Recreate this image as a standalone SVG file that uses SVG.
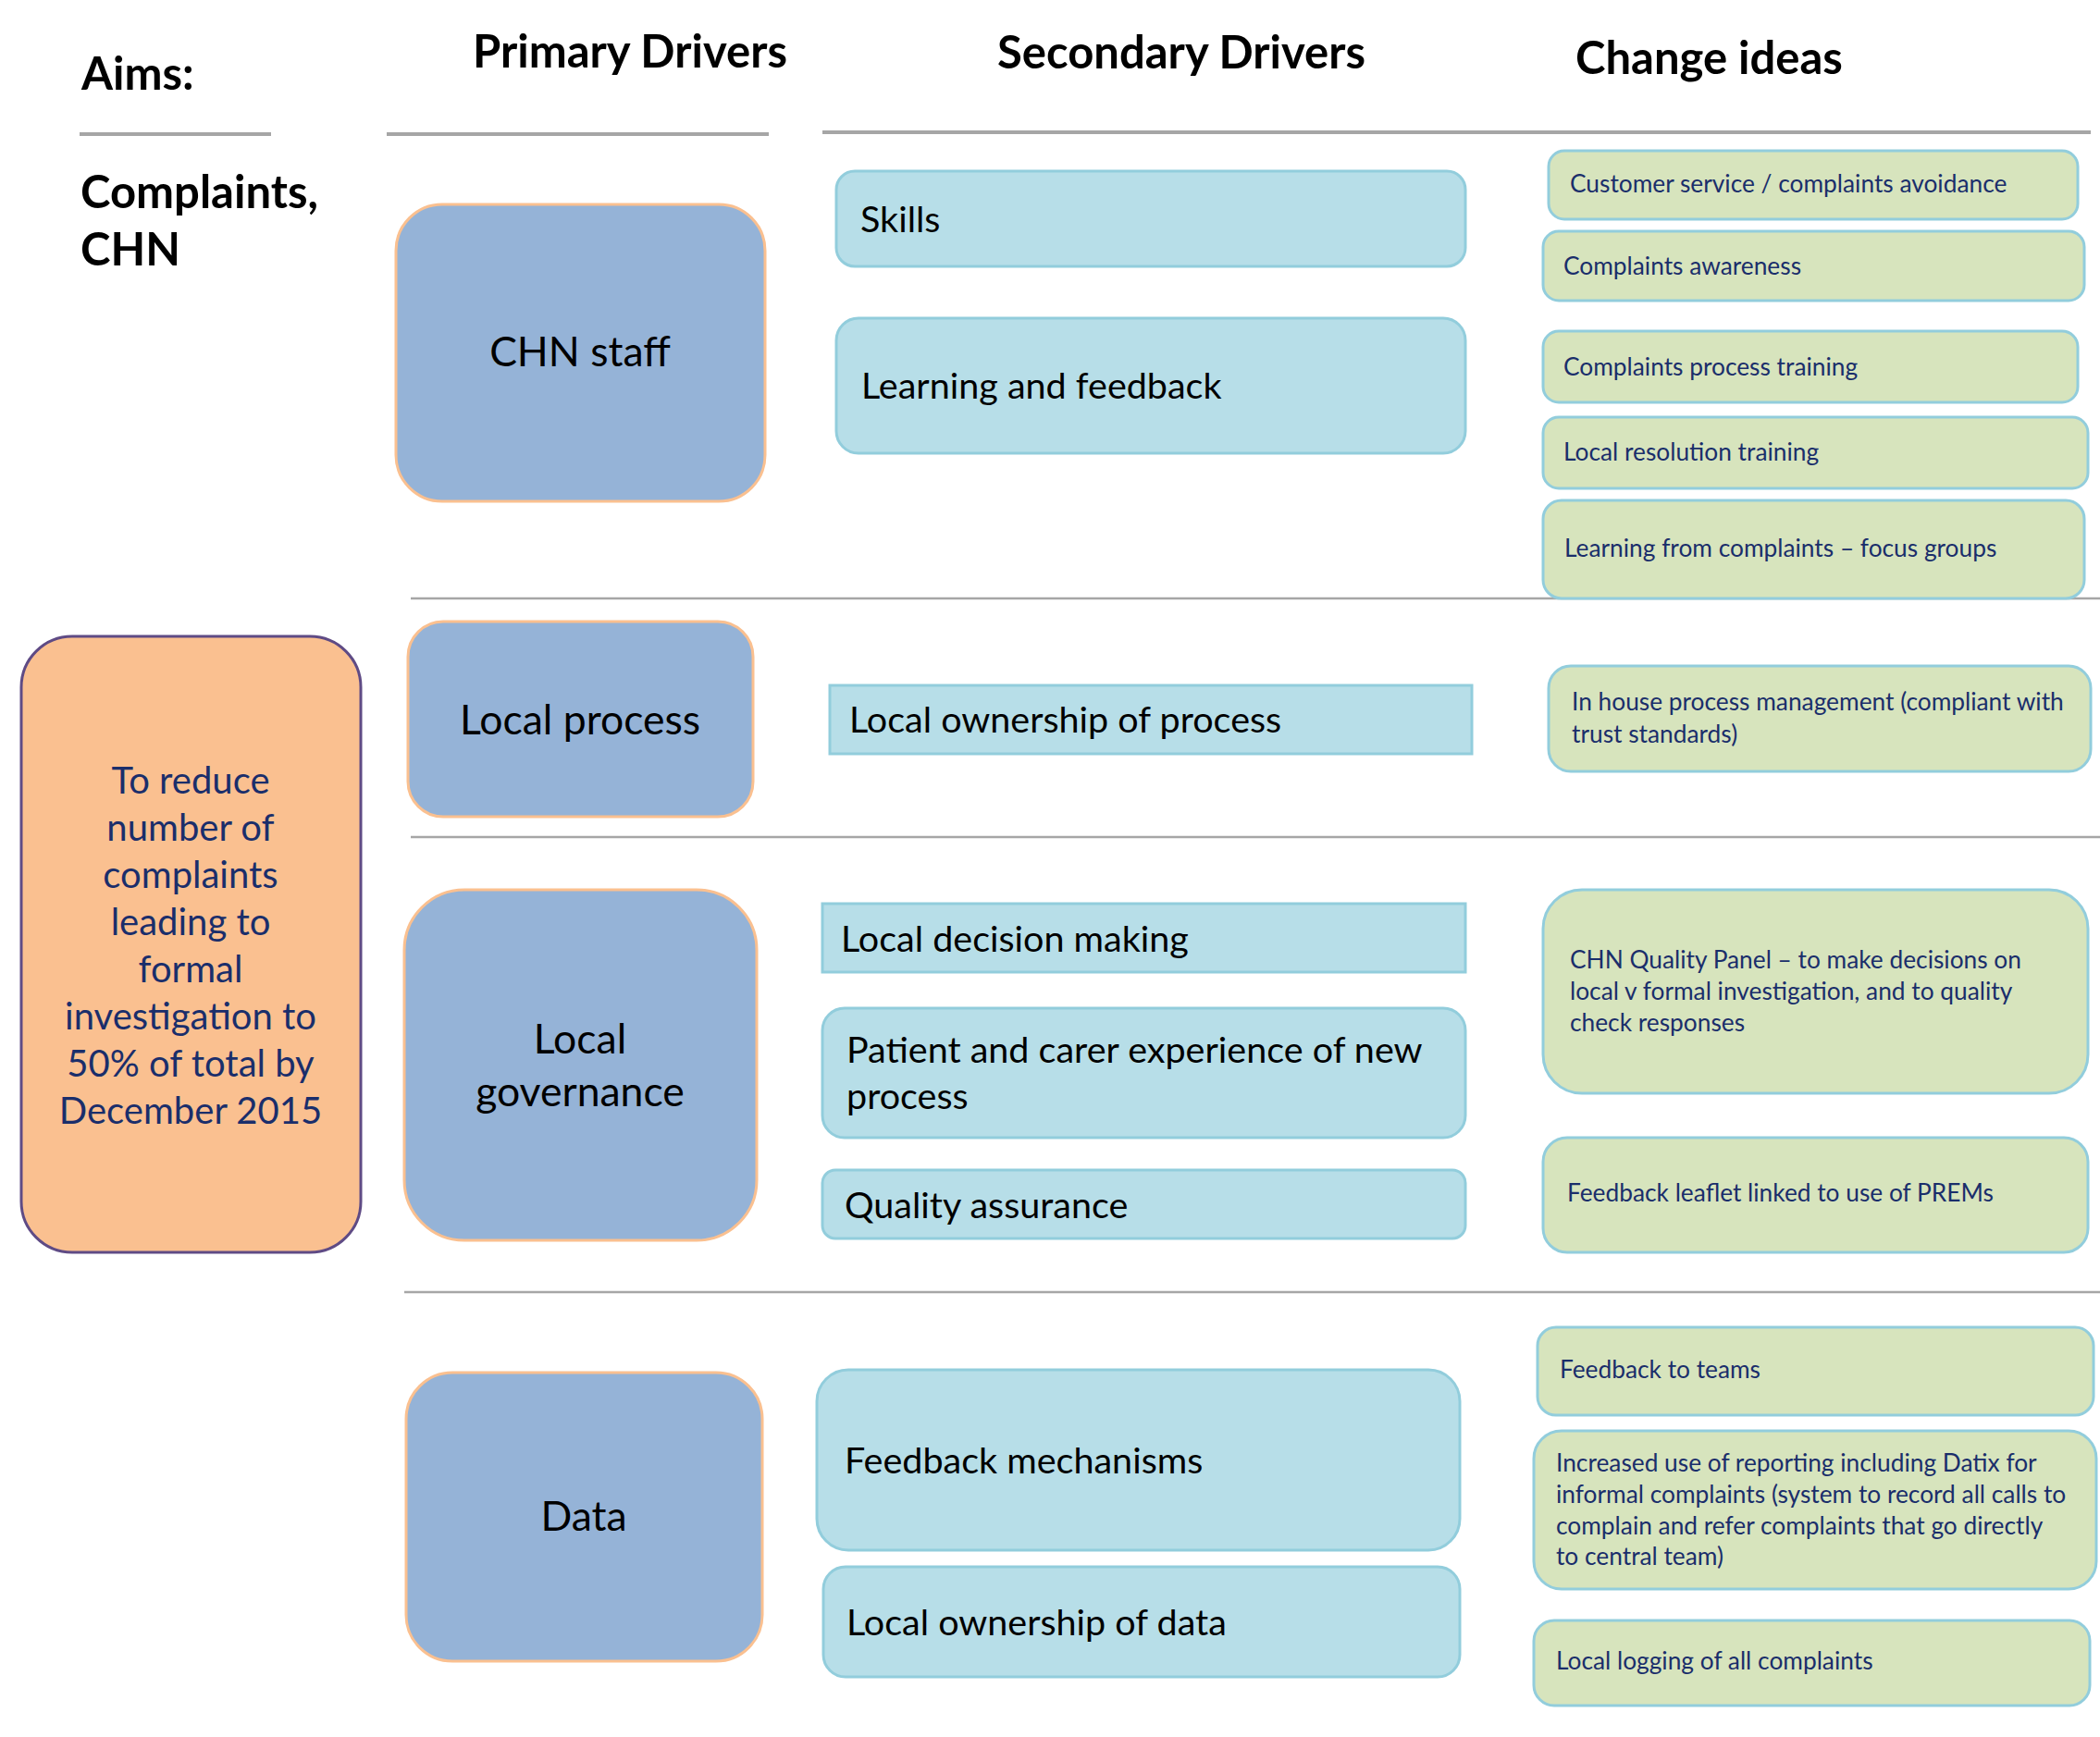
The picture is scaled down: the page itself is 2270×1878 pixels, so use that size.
<svg xmlns="http://www.w3.org/2000/svg" width="2270" height="1878" viewBox="0 0 2270 1878">
  <style>
    .hdr { font-family: Lato, "Open Sans", "Liberation Sans", sans-serif; font-weight: bold; font-size: 49px; fill: #000; }
    .rule { stroke: #A6A6A6; stroke-width: 4; }
    .sep { stroke: #A6A6A6; stroke-width: 2.5; }
    .aim { fill: #FAC090; stroke: #5F4B85; stroke-width: 3; }
    .aimtxt { font-family: Lato, "Open Sans", "Liberation Sans", sans-serif; font-size: 40px; fill: #1A2E6B; text-anchor: middle; }
    .pri { fill: #95B3D7; stroke: #FAC090; stroke-width: 3; }
    .pritxt { font-family: Lato, "Open Sans", "Liberation Sans", sans-serif; font-size: 44.5px; fill: #000; text-anchor: middle; }
    .sec { fill: #B7DEE8; stroke: #92CDDC; stroke-width: 3; }
    .sectxt { font-family: Lato, "Open Sans", "Liberation Sans", sans-serif; font-size: 39.5px; fill: #000; }
    .chg { fill: #D7E4BD; stroke: #92CDDC; stroke-width: 3; }
    .chgtxt { font-family: Lato, "Open Sans", "Liberation Sans", sans-serif; font-size: 26.3px; fill: #1A2E6B; }
  </style>

  <!-- column headings and rules -->
  <g id="headings">
    <text class="hdr" x="88" y="97">Aims:</text>
    <text class="hdr" x="511" y="73">Primary Drivers</text>
    <text class="hdr" x="1078" y="74">Secondary Drivers</text>
    <text class="hdr" x="1703" y="80">Change ideas</text>
    <line class="rule" x1="86" y1="145" x2="293" y2="145"/>
    <line class="rule" x1="418" y1="145" x2="831" y2="145"/>
    <line class="rule" x1="889" y1="143" x2="2260" y2="143"/>
    <text class="hdr" x="87" y="225">Complaints,</text>
    <text class="hdr" x="87" y="287">CHN</text>
  </g>

  <!-- row separators -->
  <g id="connectors">
    <line class="sep" x1="444" y1="647" x2="2270" y2="647"/>
    <line class="sep" x1="444" y1="905" x2="2270" y2="905"/>
    <line class="sep" x1="437" y1="1397" x2="2270" y2="1397"/>
  </g>

  <!-- aim -->
  <g id="aim">
    <rect class="aim" x="23" y="688" width="367" height="666" rx="55" ry="55"/>
    <text class="aimtxt"><tspan x="206" y="858">To reduce</tspan><tspan x="206" y="909">number of</tspan><tspan x="206" y="960">complaints</tspan><tspan x="206" y="1011">leading to</tspan><tspan x="206" y="1062">formal</tspan><tspan x="206" y="1113">investigation to</tspan><tspan x="206" y="1164">50% of total by</tspan><tspan x="206" y="1215">December 2015</tspan></text>
  </g>

  <!-- primary drivers -->
  <g id="primary-chn-staff">
    <rect class="pri" x="428" y="221" width="399" height="321" rx="50" ry="50"/>
    <text class="pritxt" x="627" y="396">CHN staff</text>
  </g>
  <g id="primary-local-process">
    <rect class="pri" x="441" y="672" width="373" height="211" rx="38" ry="38"/>
    <text class="pritxt" x="627" y="794">Local process</text>
  </g>
  <g id="primary-local-governance">
    <rect class="pri" x="437" y="962" width="381" height="379" rx="65" ry="65"/>
    <text class="pritxt"><tspan x="627" y="1139">Local</tspan><tspan x="627" y="1196">governance</tspan></text>
  </g>
  <g id="primary-data">
    <rect class="pri" x="439" y="1484" width="385" height="312" rx="50" ry="50"/>
    <text class="pritxt" x="631" y="1655">Data</text>
  </g>

  <!-- secondary drivers -->
  <g id="secondary-skills">
    <rect class="sec" x="904" y="185" width="680" height="103" rx="20" ry="20"/>
    <text class="sectxt" x="930" y="251">Skills</text>
  </g>
  <g id="secondary-learning">
    <rect class="sec" x="904" y="344" width="680" height="146" rx="24" ry="24"/>
    <text class="sectxt" x="931" y="431">Learning and feedback</text>
  </g>
  <g id="secondary-ownership-process">
    <rect class="sec" x="897" y="741" width="694" height="74"/>
    <text class="sectxt" x="918" y="792">Local ownership of process</text>
  </g>
  <g id="secondary-decision-making">
    <rect class="sec" x="889" y="977" width="695" height="74"/>
    <text class="sectxt" x="909" y="1029">Local decision making</text>
  </g>
  <g id="secondary-patient-experience">
    <rect class="sec" x="889" y="1090" width="695" height="140" rx="24" ry="24"/>
    <text class="sectxt"><tspan x="915" y="1149">Patient and carer experience of new</tspan><tspan x="915" y="1199">process</tspan></text>
  </g>
  <g id="secondary-quality-assurance">
    <rect class="sec" x="889" y="1265" width="695" height="74" rx="14" ry="14"/>
    <text class="sectxt" x="913" y="1317">Quality assurance</text>
  </g>
  <g id="secondary-feedback-mechanisms">
    <rect class="sec" x="883" y="1481" width="695" height="195" rx="34" ry="34"/>
    <text class="sectxt" x="913" y="1593">Feedback mechanisms</text>
  </g>
  <g id="secondary-ownership-data">
    <rect class="sec" x="890" y="1694" width="688" height="119" rx="24" ry="24"/>
    <text class="sectxt" x="915" y="1768">Local ownership of data</text>
  </g>

  <!-- change ideas -->
  <g id="change-customer-service">
    <rect class="chg" x="1674" y="163" width="572" height="74" rx="17" ry="17"/>
    <text class="chgtxt" x="1697" y="208">Customer service / complaints avoidance</text>
  </g>
  <g id="change-awareness">
    <rect class="chg" x="1668" y="250" width="585" height="75" rx="17" ry="17"/>
    <text class="chgtxt" x="1690" y="297">Complaints awareness</text>
  </g>
  <g id="change-process-training">
    <rect class="chg" x="1668" y="358" width="578" height="77" rx="17" ry="17"/>
    <text class="chgtxt" x="1690" y="406">Complaints process training</text>
  </g>
  <g id="change-local-resolution">
    <rect class="chg" x="1668" y="451" width="589" height="77" rx="17" ry="17"/>
    <text class="chgtxt" x="1690" y="498">Local resolution training</text>
  </g>
  <g id="change-focus-groups">
    <rect class="chg" x="1668" y="541" width="585" height="106" rx="20" ry="20"/>
    <text class="chgtxt" x="1691" y="602">Learning from complaints – focus groups</text>
  </g>
  <g id="change-in-house">
    <rect class="chg" x="1674" y="720" width="586" height="114" rx="24" ry="24"/>
    <text class="chgtxt"><tspan x="1699" y="768">In house process management (compliant with</tspan><tspan x="1699" y="803">trust standards)</tspan></text>
  </g>
  <g id="change-quality-panel">
    <rect class="chg" x="1668" y="962" width="589" height="220" rx="42" ry="42"/>
    <text class="chgtxt"><tspan x="1697" y="1047">CHN Quality Panel – to make decisions on</tspan><tspan x="1697" y="1081">local v formal investigation, and to quality</tspan><tspan x="1697" y="1115">check responses</tspan></text>
  </g>
  <g id="change-feedback-leaflet">
    <rect class="chg" x="1668" y="1230" width="589" height="124" rx="26" ry="26"/>
    <text class="chgtxt" x="1694" y="1299">Feedback leaflet linked to use of PREMs</text>
  </g>
  <g id="change-feedback-teams">
    <rect class="chg" x="1662" y="1435" width="601" height="95" rx="20" ry="20"/>
    <text class="chgtxt" x="1686" y="1490">Feedback to teams</text>
  </g>
  <g id="change-datix">
    <rect class="chg" x="1658" y="1547" width="608" height="171" rx="30" ry="30"/>
    <text class="chgtxt"><tspan x="1682" y="1591">Increased use of reporting including Datix for</tspan><tspan x="1682" y="1625">informal complaints (system to record all calls to</tspan><tspan x="1682" y="1659">complain and refer complaints that go directly</tspan><tspan x="1682" y="1692">to central team)</tspan></text>
  </g>
  <g id="change-local-logging">
    <rect class="chg" x="1658" y="1752" width="601" height="92" rx="22" ry="22"/>
    <text class="chgtxt" x="1682" y="1805">Local logging of all complaints</text>
  </g>
</svg>
